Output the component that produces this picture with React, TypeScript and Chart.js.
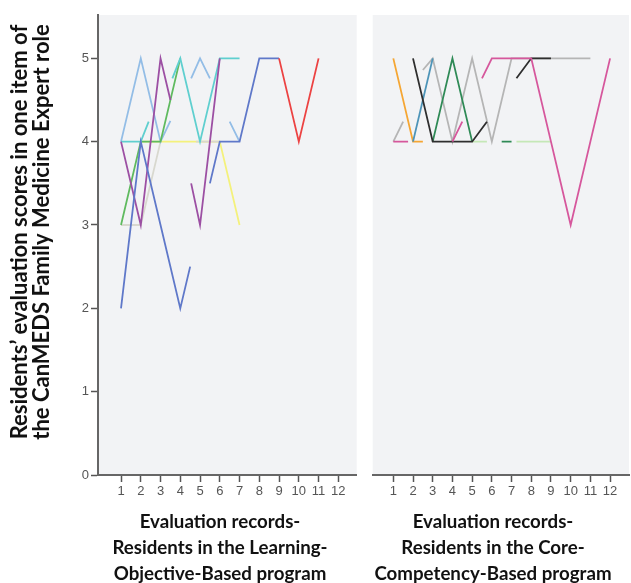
import React, { useEffect, useRef } from "react";
import { Chart, registerables } from "chart.js";

Chart.register(...registerables);

type Pt = [number, number] | null;

// ---- axis ticks ----
const recordTicks = [1, 2, 3, 4, 5, 6, 7, 8, 9, 10, 11, 12];
const scoreTicks = [0, 1, 2, 3, 4, 5];

// ---- titles ----
const yTitle = ["Residents\u2019 evaluation scores in one item of", "the CanMEDS Family Medicine Expert role"];
const xTitleLO = ["Evaluation records-", "Residents in the Learning-", "Objective-Based program"];
const xTitleCC = ["Evaluation records-", "Residents in the Core-", "Competency-Based program"];

// ---- Learning-Objective-Based program (record, score) ----
const loRed: Pt[] = [[9, 5], [10, 4], [11, 5]];
const loBlue: Pt[] = [[1, 2], [2, 4], [3, 3], [4, 2], [4.5, 2.5], null, [5.5, 3.5], [6, 4], [7, 4], [8, 5], [9, 5]];
const loPurple: Pt[] = [[1, 4], [2, 3], [3, 5], [3.5, 4.5], null, [4.55, 3.5], [5, 3], [6, 5]];
const loCyan: Pt[] = [[1, 4], [2, 4], [2.4, 4.24], null, [3.6, 4.76], [4, 5], [5, 4], [6, 5], [7, 5]];
const loGreen: Pt[] = [[1, 3], [2, 4], [3, 4], [4, 5]];
const loLightBlue: Pt[] = [[1, 4], [2, 5], [3, 4], [3.5, 4.25], null, [4.55, 4.76], [5, 5], [5.5, 4.76], null, [6.5, 4.24], [7, 4]];
const loLightGray: Pt[] = [[1, 3], [2, 3], [3, 4], null, [4.8, 4], [5, 4], [6, 4]];
const loYellow: Pt[] = [[2, 4], [3, 4], [4, 4], [5, 4], [6, 4], [7, 3]];

// ---- Core-Competency-Based program (record, score) ----
const ccPink: Pt[] = [[1, 4], [1.75, 4], null, [4, 4], [4.5, 4.24], null, [5.5, 4.76], [6, 5], [7, 5], [8, 5], [9, 4], [10, 3], [11, 4], [12, 5]];
const ccBlack: Pt[] = [[2, 5], [3, 4], [4, 4], [5, 4], [5.75, 4.24], null, [7.25, 4.76], [8, 5], [9, 5]];
const ccDarkGreen: Pt[] = [[3, 4], [4, 5], [5, 4], null, [6.5, 4], [7, 4]];
const ccTeal: Pt[] = [[2, 4], [3, 5]];
const ccOrange: Pt[] = [[1, 5], [2, 4], [2.5, 4]];
const ccGray: Pt[] = [[1, 4], [1.5, 4.24], null, [2.5, 4.86], [3, 5], [4, 4], [5, 5], [6, 4], [7, 5], [8, 5], [9, 5], [10, 5], [11, 5]];
const ccLightGreen: Pt[] = [[5, 4], [5.75, 4], null, [7.25, 4], [8, 4], [9, 4]];

function toData(pts: Pt[]) {
  const out: { x: number; y: number | null }[] = [];
  let lastX = 0;
  for (const p of pts) {
    if (p === null) out.push({ x: lastX + 0.01, y: null });
    else {
      out.push({ x: p[0], y: p[1] });
      lastX = p[0];
    }
  }
  return out;
}

const bgPlugin = {
  id: "panelBg",
  beforeDraw(chart: any) {
    const { ctx, chartArea } = chart;
    ctx.save();
    ctx.fillStyle = "#f2f3f5";
    ctx.fillRect(chartArea.left, chartArea.top, chartArea.right - chartArea.left, chartArea.bottom - chartArea.top);
    ctx.restore();
  },
};

const titlePlugin = {
  id: "panelTitles",
  afterDraw(chart: any, _args: any, opts: any) {
    const { ctx } = chart;
    ctx.save();
    ctx.fillStyle = "#111111";
    ctx.textAlign = "center";
    ctx.textBaseline = "middle";
    if (opts.xLines) {
      ctx.font = opts.xFont;
      opts.xLines.forEach((t: string, i: number) => ctx.fillText(t, opts.xCenter, opts.xTop + i * opts.xLineHeight));
    }
    if (opts.yLines) {
      ctx.translate(opts.yLeft, opts.yCenter);
      ctx.rotate(-Math.PI / 2);
      ctx.font = opts.yFont;
      opts.yLines.forEach((t: string, i: number) => ctx.fillText(t, 0, i * opts.yLineHeight));
    }
    ctx.restore();
  },
};

const tickFont = { family: "'Liberation Sans', Arial, sans-serif", size: 13 };
const axisColor = "#666666";

function buildConfig(
  series: { data: Pt[]; color: string }[],
  xMin: number,
  xMax: number,
  showY: boolean,
  padding: any,
  titles: any
) {
  return {
    type: "line" as const,
    data: {
      datasets: series.map((s) => ({
        data: toData(s.data),
        borderColor: s.color,
        borderWidth: 1.8,
        pointRadius: 0,
        pointHoverRadius: 0,
        tension: 0,
        spanGaps: false,
        fill: false,
      })),
    },
    options: {
      animation: false,
      responsive: false,
      maintainAspectRatio: false,
      devicePixelRatio: 1,
      events: [],
      layout: { padding },
      plugins: {
        legend: { display: false },
        tooltip: { enabled: false },
        panelTitles: titles,
      },
      scales: {
        x: {
          type: "linear",
          min: xMin,
          max: xMax,
          afterBuildTicks: (s: any) => {
            s.ticks = recordTicks.map((v) => ({ value: v }));
          },
          afterFit: (s: any) => {
            s.height = 108;
          },
          ticks: { autoSkip: false, maxRotation: 0, font: tickFont, color: "#555555", padding: 2 },
          grid: { drawOnChartArea: false, drawTicks: true, tickLength: 7, tickColor: "#555555", tickWidth: 1.5 },
          border: { display: true, color: axisColor, width: 2 },
        },
        y: {
          display: showY,
          type: "linear",
          min: 0,
          max: 5.52,
          afterBuildTicks: (s: any) => {
            s.ticks = scoreTicks.map((v) => ({ value: v }));
          },
          afterFit: (s: any) => {
            s.width = showY ? 98 : 0;
          },
          ticks: { font: tickFont, color: "#555555", padding: 2 },
          grid: { drawOnChartArea: false, drawTicks: true, tickLength: 7, tickColor: "#555555", tickWidth: 1.5 },
          border: { display: true, color: axisColor, width: 2 },
        },
      },
    },
    plugins: [bgPlugin, titlePlugin],
  };
}

const titleFontX = "bold 18.7px Lato, 'Open Sans', sans-serif";
const titleFontY = "bold 22px Lato, 'Open Sans', sans-serif";

export default function App() {
  const leftRef = useRef<HTMLCanvasElement>(null);
  const rightRef = useRef<HTMLCanvasElement>(null);

  useEffect(() => {
    const left = new Chart(
      leftRef.current as HTMLCanvasElement,
      buildConfig(
        [
          { data: loRed, color: "#ec4242" },
          { data: loBlue, color: "#5f78c9" },
          { data: loPurple, color: "#9c4fa3" },
          { data: loCyan, color: "#5fcfcf" },
          { data: loGreen, color: "#5fba5f" },
          { data: loLightBlue, color: "#93bde6" },
          { data: loLightGray, color: "#d8d8cf" },
          { data: loYellow, color: "#f4f17c" },
        ],
        -0.165,
        12.93,
        true,
        { left: 0, right: 8.3, top: 15, bottom: 0 },
        {
          xLines: xTitleLO,
          xFont: titleFontX,
          xCenter: 220,
          xTop: 522,
          xLineHeight: 26,
          yLines: yTitle,
          yFont: titleFontY,
          yLeft: 20,
          yCenter: 232,
          yLineHeight: 22,
        }
      ) as any
    );
    const right = new Chart(
      rightRef.current as HTMLCanvasElement,
      buildConfig(
        [
          { data: ccPink, color: "#d6579c" },
          { data: ccBlack, color: "#2e2e2e" },
          { data: ccDarkGreen, color: "#2f8a56" },
          { data: ccTeal, color: "#4d94b8" },
          { data: ccOrange, color: "#f5a633" },
          { data: ccGray, color: "#b5b5b5" },
          { data: ccLightGreen, color: "#c5e8b7" },
        ],
        -0.046,
        12.96,
        false,
        { left: 7.7, right: 2, top: 15, bottom: 0 },
        {
          xLines: xTitleCC,
          xFont: titleFontX,
          xCenter: 128,
          xTop: 522,
          xLineHeight: 26,
        }
      ) as any
    );
    return () => {
      left.destroy();
      right.destroy();
    };
  }, []);

  return (
    <div style={{ position: "fixed", left: 0, top: 0, width: 631, height: 583, background: "#ffffff" }}>
      <canvas ref={leftRef} width={365} height={583} style={{ position: "absolute", left: 0, top: 0, width: 365, height: 583 }} />
      <canvas ref={rightRef} width={266} height={583} style={{ position: "absolute", left: 365, top: 0, width: 266, height: 583 }} />
    </div>
  );
}
